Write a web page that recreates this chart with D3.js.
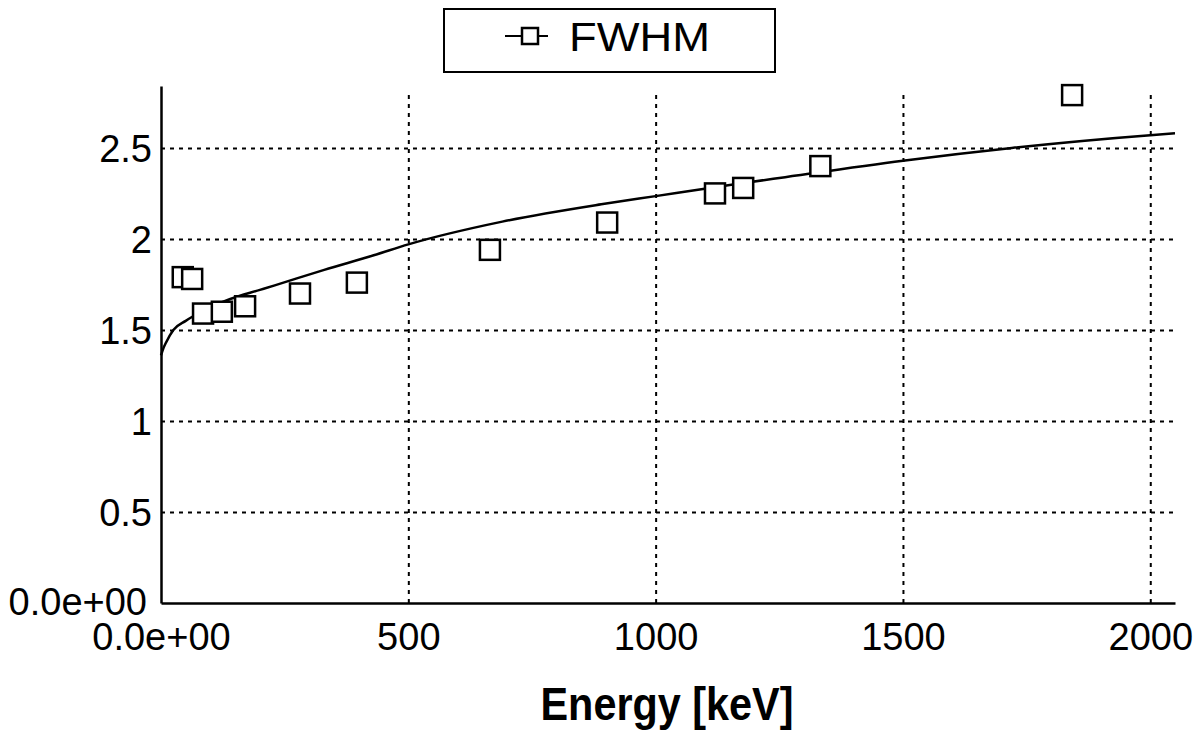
<!DOCTYPE html>
<html lang="en">
<head>
    <meta charset="UTF-8">
    <title>FWHM vs Energy</title>
    <script src="https://d3js.org/d3.v7.min.js"></script>
    <style>
        body { margin: 0; background: #fff; font-family: "Liberation Sans", Arial, sans-serif; }
        .grid line { stroke: #000; stroke-width: 2; stroke-dasharray: 4 5; }
        .grid path { display: none; }
        .tick text { font-family: "Liberation Sans", Arial, sans-serif; font-size: 38px; fill: #000; }
    </style>
</head>
<body>
    <div id="chart"></div>
    <script>
        // measured peaks (energy in keV, FWHM in keV)
        const energy = [44, 63, 85, 123, 170, 281, 396, 665, 902, 1120, 1177, 1333, 1842];
        const fwhm = [1.79, 1.78, 1.59, 1.60, 1.63, 1.70, 1.76, 1.94, 2.09, 2.25, 2.28, 2.40, 2.79];

        // fitted curve
        const fitEnergy = [0, 5, 10, 25, 50, 65, 100, 140, 200, 230, 330, 430, 500, 690, 890, 1000, 1160, 1250, 1500, 1720, 2000, 2050];
        const fitFwhm = [1.36, 1.40, 1.43, 1.50, 1.55, 1.575, 1.625, 1.67, 1.72, 1.745, 1.83, 1.91, 1.97, 2.095, 2.19, 2.235, 2.30, 2.335, 2.43, 2.50, 2.57, 2.58];

        const xTicks = [0, 500, 1000, 1500, 2000];
        const yTicks = [0, 0.5, 1, 1.5, 2, 2.5];
        const seriesName = "FWHM";
        const xTitle = "Energy [keV]";

        const W = 1197, H = 732;
        const plotLeft = 161, plotRight = 1175, plotTop = 86, plotBottom = 603;

        const svg = d3.select("#chart").append("svg")
            .attr("width", W)
            .attr("height", H);

        const x = d3.scaleLinear().domain([0, 2050]).range([plotLeft, plotRight]);
        const y = d3.scaleLinear().domain([0, 2.84]).range([plotBottom, plotTop]);

        const fmt = d => d === 0 ? "0.0e+00" : String(d);

        // grid
        svg.append("g").attr("class", "grid")
            .attr("transform", `translate(0, ${plotBottom})`)
            .call(d3.axisBottom(x).tickValues(xTicks.slice(1)).tickSize(-(plotBottom - plotTop - 6)).tickFormat(""));
        svg.append("g").attr("class", "grid")
            .attr("transform", `translate(${plotLeft}, 0)`)
            .call(d3.axisLeft(y).tickValues(yTicks.slice(1)).tickSize(-(plotRight - plotLeft)).tickFormat(""));

        // axes
        const xAxis = svg.append("g")
            .attr("transform", `translate(0, ${plotBottom})`)
            .call(d3.axisBottom(x).tickValues(xTicks).tickSize(0).tickFormat(fmt));
        xAxis.selectAll(".tick text").attr("y", 47).attr("dy", 0);
        xAxis.select(".domain").attr("stroke-width", 2.5);

        const yAxis = svg.append("g")
            .attr("transform", `translate(${plotLeft}, 0)`)
            .call(d3.axisLeft(y).tickValues(yTicks).tickSize(0).tickPadding(9).tickFormat(fmt));
        yAxis.selectAll(".tick text").attr("dy", "0.36em");
        yAxis.selectAll(".tick text").filter(d => d === 0).attr("x", -14).attr("dy", "0.3em");
        yAxis.select(".domain").attr("stroke-width", 2.5);

        // fitted curve
        const line = d3.line()
            .x((d, i) => x(fitEnergy[i]))
            .y(d => y(d))
            .curve(d3.curveMonotoneX);
        svg.append("path")
            .datum(fitFwhm)
            .attr("d", line)
            .attr("fill", "none")
            .attr("stroke", "#000")
            .attr("stroke-width", 2.5);

        // markers
        const s = 20;
        svg.selectAll(".pt")
            .data(fwhm)
            .join("rect")
            .attr("class", "pt")
            .attr("x", (d, i) => x(energy[i]) - s / 2)
            .attr("y", d => y(d) - s / 2)
            .attr("width", s)
            .attr("height", s)
            .attr("fill", "#fff")
            .attr("stroke", "#000")
            .attr("stroke-width", 2.5);

        // x title
        svg.append("text")
            .attr("x", 667)
            .attr("y", 720)
            .attr("text-anchor", "middle")
            .attr("font-size", 46)
            .attr("font-weight", "bold")
            .attr("textLength", 253)
            .attr("lengthAdjust", "spacingAndGlyphs")
            .text(xTitle);

        // legend
        const lg = svg.append("g");
        lg.append("rect")
            .attr("x", 444).attr("y", 9)
            .attr("width", 331).attr("height", 63)
            .attr("fill", "#fff").attr("stroke", "#000").attr("stroke-width", 2);
        lg.append("line")
            .attr("x1", 505).attr("x2", 548).attr("y1", 36).attr("y2", 36)
            .attr("stroke", "#000").attr("stroke-width", 2);
        lg.append("rect")
            .attr("x", 522).attr("y", 28).attr("width", 16).attr("height", 16)
            .attr("fill", "#fff").attr("stroke", "#000").attr("stroke-width", 2.5);
        lg.append("text")
            .attr("x", 569).attr("y", 51)
            .attr("font-size", 41)
            .attr("textLength", 141)
            .attr("lengthAdjust", "spacingAndGlyphs")
            .text(seriesName);
    </script>
</body>
</html>
